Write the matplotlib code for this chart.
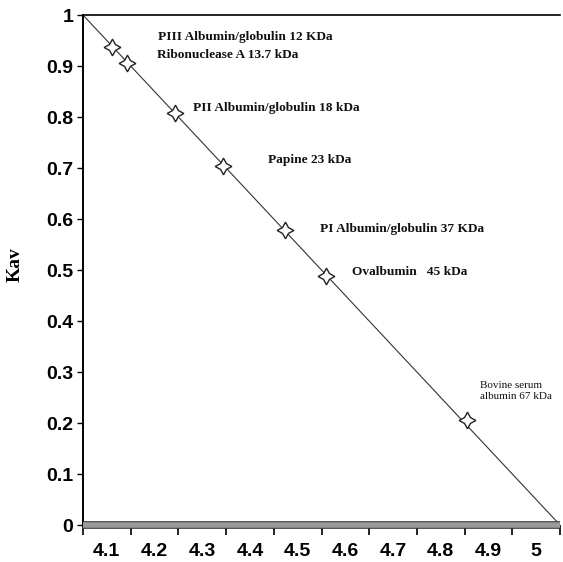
from matplotlib import pyplot as plt
from matplotlib import patheffects as pe
import numpy as np

# standards (log MW axis) and their Kav
log_mw = [4.111, 4.142, 4.243, 4.344, 4.473, 4.559, 4.855]
kav = [0.937, 0.906, 0.808, 0.704, 0.578, 0.488, 0.206]

# trend line end points
trend_x = [4.05, 5.05]
trend_y = [1.0, 0.0]

x_labels = ["4.1", "4.2", "4.3", "4.4", "4.5", "4.6", "4.7", "4.8", "4.9", "5"]

labels = ["PIII Albumin/globulin 12 KDa", "Ribonuclease A 13.7 kDa",
          "PII Albumin/globulin 18 kDa", "Papine 23 kDa",
          "PI Albumin/globulin 37 KDa", "Ovalbumin   45 kDa"]
label_x = [4.207, 4.205, 4.281, 4.438, 4.547, 4.614]
label_y = [0.957, 0.922, 0.818, 0.716, 0.580, 0.496]


def main():
    fig = plt.figure(figsize=(5.63, 5.62), dpi=100)
    ax = fig.add_axes([0.1474, 0.0658, 0.8473, 0.9075])

    ax.plot(trend_x, trend_y, color="#333333", lw=0.8, zorder=2)
    ax.plot(log_mw, kav, ls="none", marker=(4, 1, 0), markersize=12,
            markerfacecolor="white", markeredgecolor="#222222",
            markeredgewidth=1.0, zorder=3)

    for t, x, y in zip(labels, label_x, label_y):
        ax.text(x, y, t, family="Liberation Serif", fontweight="bold",
                fontsize=9.6, va="center", ha="left", color="#111111")
    ax.text(4.882, 0.263, "Bovine serum\nalbumin 67 kDa",
            family="Liberation Serif", fontsize=8, va="center",
            ha="left", linespacing=1.25, color="#111111")

    ax.set_xlim(4.05, 5.05)
    ax.set_ylim(0, 1)

    # category style x axis: ticks on boundaries, labels in between
    ax.set_xticks(np.arange(4.05, 5.06, 0.1))
    ax.set_xticklabels([])
    ax.set_xticks(np.arange(4.1, 5.01, 0.1), minor=True)
    ax.set_xticklabels(x_labels, minor=True)
    ax.tick_params(axis="x", which="major", direction="out", length=7,
                   width=1.2, color="black")
    ax.tick_params(axis="x", which="minor", length=0, pad=13)

    yt = np.arange(0, 1.01, 0.1)
    ax.set_yticks(yt)
    ax.set_yticklabels(["0"] + ["%.1f" % v for v in yt[1:-1]] + ["1"])
    ax.tick_params(axis="y", direction="out", length=4, width=1.0, pad=3)

    for lab in ax.get_xticklabels(minor=True) + ax.get_yticklabels():
        lab.set_family("Liberation Sans")
        lab.set_fontweight("bold")
        lab.set_fontsize(14)

    ax.set_ylabel("Kav", family="Liberation Serif", fontweight="bold",
                  fontsize=14)
    ax.yaxis.set_label_coords(-0.125, 0.51)

    ax.spines["right"].set_visible(False)
    ax.spines["bottom"].set_visible(False)
    ax.spines["left"].set_linewidth(1.4)
    ax.spines["top"].set_linewidth(1.2)

    # grey floor of the x axis
    ax.axhline(0, color="#9a9a9a", lw=4, zorder=4, clip_on=False,
               solid_capstyle="butt",
               path_effects=[pe.Stroke(linewidth=5.5, foreground="#333333"),
                             pe.Normal()])

    fig.savefig("out.png", dpi=100)


if __name__ == "__main__":
    main()
